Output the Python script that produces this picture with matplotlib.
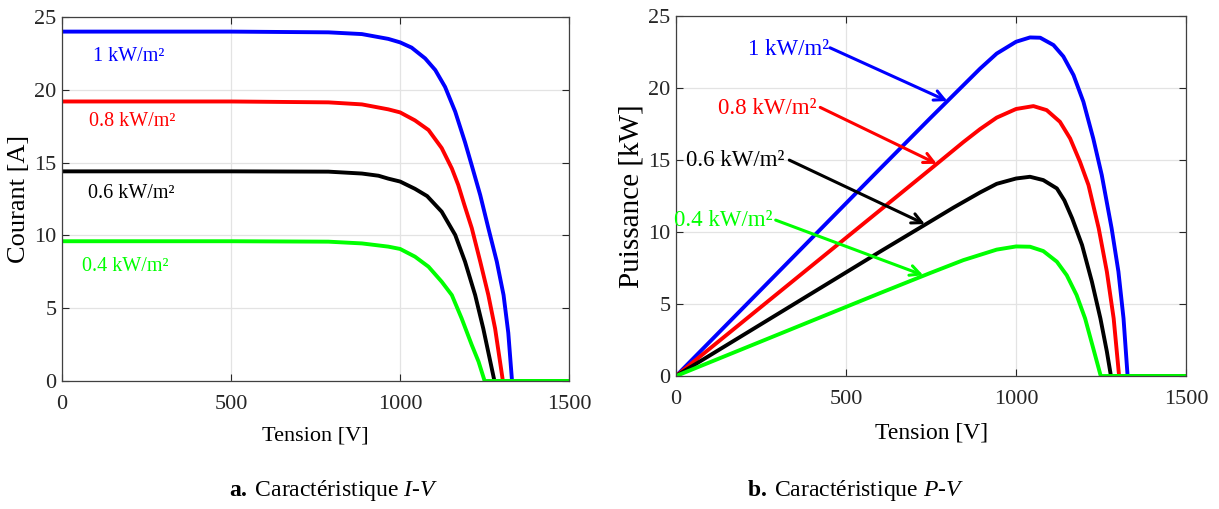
import matplotlib.pyplot as plt

plt.rcParams['font.family'] = ['Liberation Serif', 'DejaVu Serif']
plt.rcParams['mathtext.fontset'] = 'custom'
plt.rcParams['mathtext.rm'] = 'Liberation Serif'
plt.rcParams['mathtext.it'] = 'Liberation Serif:italic'
plt.rcParams['mathtext.bf'] = 'Liberation Serif:bold'

# Irradiance labels and colours
labels = ['1 kW/m²', '0.8 kW/m²', '0.6 kW/m²', '0.4 kW/m²']
colors = ['#0000ff', '#ff0000', '#000000', '#00ff00']

# I-V curves (tension [V], courant [A])
iv_v_1 = [0, 500, 788, 887, 965, 1000, 1034, 1074, 1104, 1133, 1163, 1192, 1212, 1237, 1261, 1286, 1306, 1320, 1331, 1500]
iv_i_1 = [24.0, 24.0, 23.95, 23.83, 23.5, 23.26, 22.9, 22.16, 21.36, 20.2, 18.5, 16.4, 14.8, 12.77, 10.5, 8.2, 5.9, 3.3, 0, 0]
iv_v_08 = [0, 500, 788, 887, 965, 1000, 1044, 1084, 1123, 1153, 1172, 1190, 1212, 1237, 1261, 1281, 1304, 1500]
iv_i_08 = [19.2, 19.2, 19.14, 19.0, 18.66, 18.45, 17.9, 17.24, 16.0, 14.6, 13.46, 12.1, 10.5, 8.2, 5.9, 3.6, 0, 0]
iv_v_06 = [0, 500, 788, 887, 936, 965, 1000, 1044, 1080, 1123, 1163, 1192, 1222, 1246, 1279, 1500]
iv_i_06 = [14.4, 14.4, 14.38, 14.25, 14.1, 13.9, 13.7, 13.2, 12.7, 11.63, 10.03, 8.2, 5.9, 3.6, 0, 0]
iv_v_04 = [0, 500, 788, 887, 965, 1000, 1044, 1084, 1123, 1153, 1182, 1212, 1232, 1250, 1500]
iv_i_04 = [9.6, 9.6, 9.57, 9.45, 9.23, 9.07, 8.54, 7.85, 6.82, 5.9, 4.3, 2.47, 1.33, 0, 0]

# P-V curves (tension [V], puissance [kW])
pv_v_1 = [0, 200, 400, 600, 747, 796, 845, 894, 943, 1000, 1041, 1071, 1110, 1139, 1169, 1198, 1227, 1252, 1281, 1301, 1316, 1328, 1500]
pv_p_1 = [0, 4.8, 9.6, 14.4, 17.9, 19.05, 20.2, 21.35, 22.4, 23.22, 23.52, 23.5, 22.99, 22.2, 20.9, 19.05, 16.5, 13.96, 10.26, 7.25, 4.0, 0, 0]
pv_v_08 = [0, 200, 400, 600, 747, 796, 845, 894, 943, 1000, 1051, 1090, 1129, 1159, 1188, 1213, 1243, 1267, 1287, 1303, 1500]
pv_p_08 = [0, 3.84, 7.68, 11.52, 14.35, 15.3, 16.25, 17.15, 17.95, 18.55, 18.75, 18.47, 17.66, 16.5, 14.88, 13.26, 10.26, 7.25, 4.0, 0, 0]
pv_v_06 = [0, 200, 400, 600, 747, 816, 894, 943, 1000, 1041, 1080, 1120, 1142, 1165, 1194, 1223, 1248, 1267, 1279, 1500]
pv_p_06 = [0, 2.88, 5.76, 8.64, 10.72, 11.7, 12.75, 13.35, 13.72, 13.84, 13.61, 13.03, 12.2, 10.95, 9.1, 6.55, 4.0, 1.7, 0, 0]
pv_v_04 = [0, 200, 400, 600, 747, 845, 943, 1000, 1041, 1080, 1120, 1149, 1178, 1203, 1227, 1249, 1500]
pv_p_04 = [0, 1.92, 3.84, 5.76, 7.15, 8.05, 8.78, 9.0, 8.98, 8.68, 7.94, 7.0, 5.62, 4.0, 1.92, 0, 0]

iv_curves = [(iv_v_1, iv_i_1), (iv_v_08, iv_i_08), (iv_v_06, iv_i_06), (iv_v_04, iv_i_04)]
pv_curves = [(pv_v_1, pv_p_1), (pv_v_08, pv_p_08), (pv_v_06, pv_p_06), (pv_v_04, pv_p_04)]

# label positions (data coords)
iv_label_xy = [(92, 22.3), (81, 17.8), (76, 12.9), (59, 7.85)]
pv_label_xy = [(213, 22.7), (122, 18.6), (29, 14.95), (-6, 10.83)]
pv_arrow_start = [(453, 22.8), (424, 18.66), (333, 15.0), (293, 10.83)]
pv_arrow_end = [(798, 19.1), (767, 14.74), (732, 10.55), (727, 7.0)]

xticks = [0, 500, 1000, 1500]
yticks = [0, 5, 10, 15, 20, 25]

fig = plt.figure(figsize=(12.19, 5.09), dpi=100)
ax1 = fig.add_axes([0.0509, 0.2515, 0.416, 0.715])
ax2 = fig.add_axes([0.5546, 0.2613, 0.4184, 0.707])


def style(ax):
    ax.set_xlim(0, 1500)
    ax.set_ylim(0, 25)
    ax.set_xticks(xticks)
    ax.set_yticks(yticks)
    ax.grid(True, color='#e3e3e3', lw=0.9)
    ax.set_axisbelow(True)
    ax.tick_params(direction='in', top=True, right=True, length=5,
                   labelsize=16, colors='#262626')
    ax.tick_params(axis='x', pad=10)
    ax.tick_params(axis='y', pad=4)
    for s in ax.spines.values():
        s.set_color('#404040')
        s.set_linewidth(0.9)


# 1. I-V
for (v, i), c in zip(iv_curves, colors):
    ax1.plot(v, i, color=c, lw=2.8, solid_joinstyle='round')
for (x, y), t, c in zip(iv_label_xy, labels, colors):
    ax1.text(x, y, t, color=c, fontsize=14.5, va='center', ha='left')
style(ax1)
ax1.set_xlabel('Tension [V]', fontsize=16, labelpad=9)
ax1.set_ylabel('Courant [A]', fontsize=19, labelpad=3)

# 2. P-V
for (v, p), c in zip(pv_curves, colors):
    ax2.plot(v, p, color=c, lw=2.8, solid_joinstyle='round')
for k in range(4):
    ax2.text(*pv_label_xy[k], labels[k], color=colors[k], fontsize=16.5,
             va='center', ha='left')
    ax2.annotate('', xy=pv_arrow_end[k], xytext=pv_arrow_start[k],
                 arrowprops=dict(arrowstyle='->', color=colors[k], lw=2.2,
                                 mutation_scale=18, shrinkA=0, shrinkB=0))
style(ax2)
ax2.set_xlabel('Tension [V]', fontsize=17, labelpad=10)
ax2.set_ylabel('Puissance [kW]', fontsize=21, labelpad=3)

# 3. Captions
fig.text(0.274, 0.037, '$\\mathbf{a.}$\u2009Caractéristique $\\mathit{I}$-$\\mathit{V}$',
         fontsize=17, ha='center', va='center')
fig.text(0.702, 0.037, '$\\mathbf{b.}$\u2009Caractéristique $\\mathit{P}$-$\\mathit{V}$',
         fontsize=17, ha='center', va='center')

fig.savefig('out.png', dpi=100)
